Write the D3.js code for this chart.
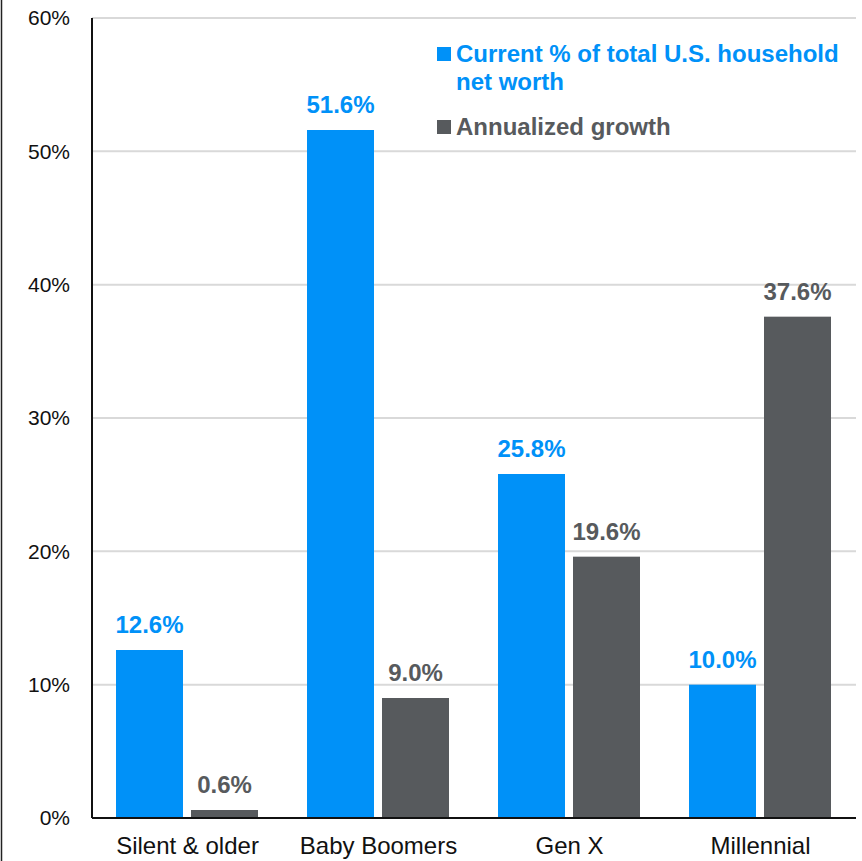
<!DOCTYPE html>
<html>
<head>
<meta charset="utf-8">
<script src="https://cdn.jsdelivr.net/npm/d3@7"></script>
<style>
  body { margin: 0; background: #fff; }
  text { font-family: "Liberation Sans", Arial, sans-serif; }
</style>
</head>
<body>
<div class="chart"></div>
<script>
// data
var categories = ["Silent & older", "Baby Boomers", "Gen X", "Millennial"];
var shareOfNetWorth = [12.6, 51.6, 25.8, 10.0];
var annualizedGrowth = [0.6, 9.0, 19.6, 37.6];
var seriesNames = ["Current % of total U.S. household net worth", "Annualized growth"];
var yTicks = [0, 10, 20, 30, 40, 50, 60];

var colors = ["#0091f8", "#575a5d"];

var W = 862, H = 861;
var margin = {top: 18, right: 6, bottom: 43, left: 92}
  , width = W - margin.left - margin.right
  , height = H - margin.top - margin.bottom;

var svg = d3.select(".chart").append("svg")
    .attr("width", W)
    .attr("height", H);

// outer frame line on the left
svg.append("line")
    .attr("x1", 1.5).attr("x2", 1.5)
    .attr("y1", 0).attr("y2", H)
    .attr("stroke", "#222").attr("stroke-width", 1.5);

var g = svg.append("g")
    .attr("transform", "translate(" + margin.left + "," + margin.top + ")");

var xScale = d3.scaleBand()
    .domain(categories)
    .range([0, width])
    .paddingInner(0)
    .paddingOuter(0);

var xSub = d3.scaleBand()
    .domain([0, 1])
    .range([24, 24 + 142])
    .paddingInner(8 / 75);

var yScale = d3.scaleLinear()
    .domain([0, 60])
    .range([height, 0]);

// gridlines
g.append("g")
  .selectAll("line")
  .data(yTicks.filter(d => d > 0))
  .enter().append("line")
    .attr("x1", 0).attr("x2", width)
    .attr("y1", d => yScale(d)).attr("y2", d => yScale(d))
    .attr("stroke", "#d9d9d9").attr("stroke-width", 2);

// y tick labels
g.append("g")
  .selectAll("text")
  .data(yTicks)
  .enter().append("text")
    .attr("x", -22)
    .attr("y", d => yScale(d))
    .attr("dy", "0.35em")
    .attr("text-anchor", "end")
    .attr("font-size", 21)
    .attr("fill", "#111")
    .text(d => d + "%");

var rows = categories.map((c, i) => ({cat: c, vals: [shareOfNetWorth[i], annualizedGrowth[i]]}));

var groups = g.selectAll(".grp")
    .data(rows)
  .enter().append("g")
    .attr("class", "grp")
    .attr("transform", d => "translate(" + xScale(d.cat) + ",0)");

groups.selectAll("rect")
    .data(d => d.vals.map((v, k) => ({k: k, v: v})))
  .enter().append("rect")
    .attr("x", d => xSub(d.k))
    .attr("width", xSub.bandwidth())
    .attr("y", d => yScale(d.v))
    .attr("height", d => height - yScale(d.v))
    .attr("fill", d => colors[d.k]);

groups.selectAll(".lbl")
    .data(d => d.vals.map((v, k) => ({k: k, v: v})))
  .enter().append("text")
    .attr("class", "lbl")
    .attr("x", d => xSub(d.k) + xSub.bandwidth() / 2)
    .attr("y", d => yScale(d.v) - 17)
    .attr("text-anchor", "middle")
    .attr("font-size", 24)
    .attr("font-weight", "bold")
    .attr("fill", d => colors[d.k])
    .text(d => d.v.toFixed(1) + "%");

// axes lines
g.append("line")
    .attr("x1", 0).attr("x2", 0)
    .attr("y1", 0).attr("y2", height)
    .attr("stroke", "#111").attr("stroke-width", 2);
g.append("line")
    .attr("x1", 0).attr("x2", width)
    .attr("y1", height).attr("y2", height)
    .attr("stroke", "#111").attr("stroke-width", 2);

// category labels
g.append("g")
  .selectAll("text")
  .data(categories)
  .enter().append("text")
    .attr("x", d => xScale(d) + xScale.bandwidth() / 2)
    .attr("y", height + 36)
    .attr("text-anchor", "middle")
    .attr("font-size", 24)
    .attr("fill", "#111")
    .text(d => d);

// legend
var legend = svg.append("g").attr("transform", "translate(437,0)");
var legendLines = [["Current % of total U.S. household", "net worth"], ["Annualized growth"]];
var legendTop = [47, 120];
legendLines.forEach(function(lines, k) {
  legend.append("rect")
      .attr("x", 0).attr("y", legendTop[k])
      .attr("width", 14).attr("height", 14)
      .attr("fill", colors[k]);
  legend.append("text")
      .attr("x", 19)
      .attr("y", legendTop[k] + 15)
      .attr("font-size", 24)
      .attr("font-weight", "bold")
      .attr("fill", colors[k])
      .selectAll("tspan")
      .data(lines)
      .enter().append("tspan")
        .attr("x", 19)
        .attr("dy", (d, i) => i === 0 ? 0 : 28)
        .text(d => d);
});
</script>
</body>
</html>
